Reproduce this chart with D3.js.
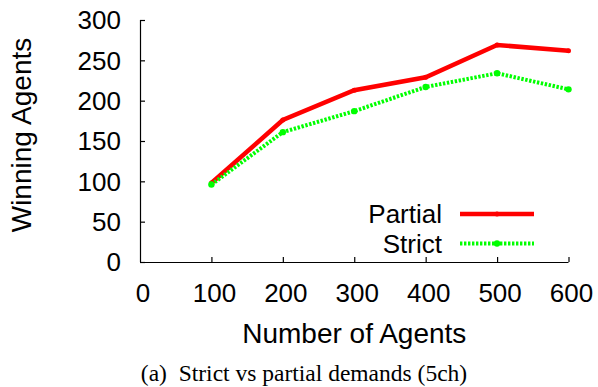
<!DOCTYPE html>
<html>
<head>
<meta charset="utf-8">
<script src="https://cdn.jsdelivr.net/npm/d3@7"></script>
<style>
  html, body { margin: 0; padding: 0; background: #fff; }
  svg { display: block; }
</style>
</head>
<body>
<svg id="chart" width="598" height="387"></svg>
<script>
const agents = [100, 200, 300, 400, 500, 600];
const partial = [98, 176, 213, 229, 269, 262];
const strict = [96, 161, 187, 217, 234, 214];
const xTicks = [0, 100, 200, 300, 400, 500, 600];
const yTicks = [0, 50, 100, 150, 200, 250, 300];
const seriesNames = ["Partial", "Strict"];

const W = 598, H = 387;
const m = { left: 140, right: 29.5, top: 20, bottom: 125 };
const svg = d3.select("#chart");
const x = d3.scaleLinear().domain([0, 600]).range([m.left, W - m.right]);
const y = d3.scaleLinear().domain([0, 300]).range([H - m.bottom, m.top]);
const sans = "'Liberation Sans', Arial, Helvetica, sans-serif";

// axes
const yAxis = svg.append("g").attr("transform", `translate(${m.left},0)`)
  .call(d3.axisRight(y).tickValues(yTicks).tickSize(5).tickFormat(""));
yAxis.select(".domain").attr("d", `M0.5,${y(300)}V${y(0)}`);
const xAxis = svg.append("g").attr("transform", `translate(0,${y(0)})`)
  .call(d3.axisTop(x).tickValues(xTicks.filter(d => d > 0)).tickSize(5).tickFormat(""));
xAxis.select(".domain").attr("d", `M${x(0)},0.5H${x(600)}`);
svg.selectAll(".domain, .tick line").attr("stroke", "#000").attr("stroke-width", 1.2);

// tick labels
svg.append("g").selectAll("text").data(yTicks).join("text")
  .attr("x", 121).attr("y", d => y(d)).attr("dy", "0.36em")
  .attr("text-anchor", "end").attr("font-family", sans).attr("font-size", 26)
  .text(d => d);
svg.append("g").selectAll("text").data(xTicks).join("text")
  .attr("x", d => x(d) + 3).attr("y", 302)
  .attr("text-anchor", "middle").attr("font-family", sans).attr("font-size", 26)
  .text(d => d);

// axis titles
svg.append("text").attr("x", (x(0) + x(600)) / 2 + 0).attr("y", 343)
  .attr("text-anchor", "middle").attr("font-family", sans).attr("font-size", 28)
  .text("Number of Agents");
svg.append("text").attr("transform", `translate(31,135) rotate(-90)`)
  .attr("text-anchor", "middle").attr("font-family", sans).attr("font-size", 28)
  .text("Winning Agents");

// caption
svg.append("text").attr("x", 304).attr("y", 381)
  .attr("text-anchor", "middle").attr("font-family", "'Liberation Serif', 'Times New Roman', serif")
  .attr("font-size", 23.5).attr("xml:space", "preserve")
  .text("(a)  Strict vs partial demands (5ch)");

// lines
const line = d3.line().x(d => x(d[0])).y(d => y(d[1]));
const pData = agents.map((a, i) => [a, partial[i]]);
const sData = agents.map((a, i) => [a, strict[i]]);
svg.append("path").datum(pData).attr("d", line).attr("fill", "none")
  .attr("stroke", "#ff0000").attr("stroke-width", 4.5).attr("stroke-linejoin", "miter");
svg.append("g").selectAll("circle").data(pData).join("circle")
  .attr("cx", d => x(d[0])).attr("cy", d => y(d[1])).attr("r", 2.5).attr("fill", "#ff0000");
svg.append("path").datum(sData).attr("d", line).attr("fill", "none")
  .attr("stroke", "#00ff00").attr("stroke-width", 4).attr("stroke-dasharray", "2.4,1.6");
svg.append("g").selectAll("circle").data(sData).join("circle")
  .attr("cx", d => x(d[0])).attr("cy", d => y(d[1])).attr("r", 3.2).attr("fill", "#00ff00");

// legend
const leg = [
  { name: seriesNames[0], color: "#ff0000", ly: 214, dash: null, w: 4.5, r: 2.5 },
  { name: seriesNames[1], color: "#00ff00", ly: 243.5, dash: "2.4,1.6", w: 4, r: 3.2 }
];
leg.forEach(l => {
  svg.append("text").attr("x", 442).attr("y", l.ly).attr("dy", "0.36em")
    .attr("text-anchor", "end").attr("font-family", sans).attr("font-size", 26).text(l.name);
  svg.append("line").attr("x1", 460).attr("x2", 534).attr("y1", l.ly).attr("y2", l.ly)
    .attr("stroke", l.color).attr("stroke-width", l.w).attr("stroke-dasharray", l.dash);
  svg.append("circle").attr("cx", 497).attr("cy", l.ly).attr("r", l.r).attr("fill", l.color);
});
</script>
</body>
</html>
